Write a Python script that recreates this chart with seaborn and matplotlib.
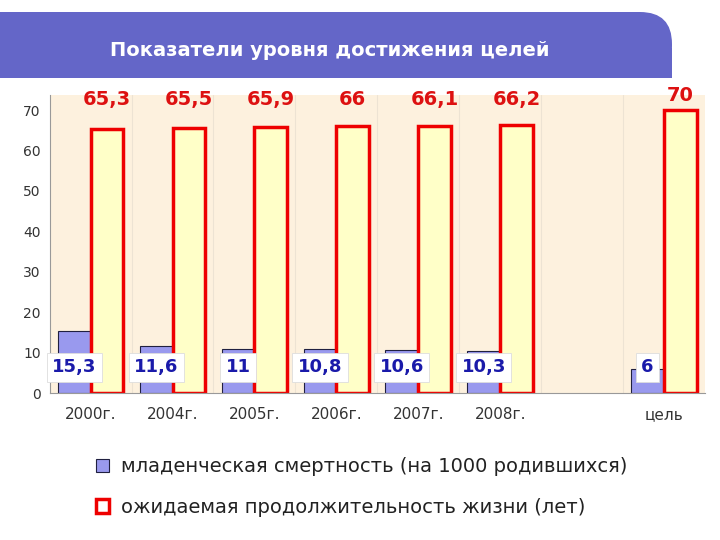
import matplotlib
matplotlib.use("Agg")
import matplotlib.pyplot as plt
import seaborn as sns
import pandas as pd
import numpy as np
from matplotlib.patches import FancyBboxPatch, Rectangle, Patch

categories = ["2000г.", "2004г.", "2005г.", "2006г.", "2007г.", "2008г.", " ", "цель"]
mortality = [15.3, 11.6, 11, 10.8, 10.6, 10.3, np.nan, 6]
life = [65.3, 65.5, 65.9, 66, 66.1, 66.2, np.nan, 70]
mort_labels = ["15,3", "11,6", "11", "10,8", "10,6", "10,3", "", "6"]
life_labels = ["65,3", "65,5", "65,9", "66", "66,1", "66,2", "", "70"]
s1 = "младенческая смертность (на 1000 родившихся)"
s2 = "ожидаемая продолжительность жизни (лет)"

df = pd.DataFrame({"cat": categories * 2, "val": mortality + life,
                   "series": [s1] * 8 + [s2] * 8})

sns.set_style("white")
plt.rcParams['font.family'] = ['DejaVu Sans']
fig = plt.figure(figsize=(7.2, 5.4), dpi=100)
ax = fig.add_axes([0.069, 0.272, 0.910, 0.552])
sns.barplot(data=df, x="cat", y="val", hue="series", order=categories,
            hue_order=[s1, s2], width=0.8, ax=ax, legend=False,
            palette=["#9999EE", "#FFFFC0"])
n = len(categories)
for p in ax.patches:
    cx = p.get_x() + p.get_width() / 2
    if cx - round(cx) < 0:
        p.set_facecolor("#9999EE"); p.set_edgecolor("#202040"); p.set_linewidth(0.8)
    else:
        p.set_facecolor("#FFFFC8"); p.set_edgecolor("#EE0000"); p.set_linewidth(2.5)
ax.set_facecolor("#FDF1DE")
ax.set_ylim(0, 73.7)
ax.set_xlim(-0.5, n - 0.5)
ax.set_yticks(range(0, 71, 10))
ax.set_xlabel(""); ax.set_ylabel("")
for sp in ["top", "right"]:
    ax.spines[sp].set_visible(False)
for sp in ["left", "bottom"]:
    ax.spines[sp].set_color("#999999")
ax.tick_params(axis="y", labelsize=10, length=3, colors="#333333")
ax.tick_params(axis="x", labelsize=11, length=0, pad=10, colors="#333333")
for x in np.arange(0.5, n - 0.5, 1):
    ax.axvline(x, color="#EDE3D3", lw=0.8, zorder=0)

for i in range(n):
    if mort_labels[i]:
        ax.text(i - 0.2, 6.4, mort_labels[i], ha="center", va="center", color="#1A1AAA",
                fontsize=13, fontweight="bold",
                bbox=dict(boxstyle="square,pad=0.3", fc="white", ec="#DDDDDD", lw=0.6))
    if life_labels[i]:
        y = 70.3 if i < n - 1 else 71.2
        ax.text(i + 0.2, y, life_labels[i], ha="center", va="bottom", color="#DD1111",
                fontsize=14, fontweight="bold")

# header banner: rounded top-right corner only
fig.patches.append(FancyBboxPatch((-40, 540 - 78), 40 + 672, 66,
                                  boxstyle="round,pad=0,rounding_size=32",
                                  transform=None, fc="#6466C8", ec="none"))
fig.patches.append(Rectangle((-5, 540 - 78), 640, 66, transform=None, fc="#6466C8", ec="none"))
fig.patches.append(Rectangle((-5, 540 - 78), 677, 30, transform=None, fc="#6466C8", ec="none"))
fig.text(330 / 720, 1 - 50 / 540, "Показатели уровня достижения целей", ha="center", va="center",
         color="white", fontsize=14, fontweight="bold")

handles = [Patch(fc="#9999EE", ec="#202040", lw=0.8), Patch(fc="white", ec="#EE0000", lw=2.5)]
fig.legend(handles, [s1, s2], loc="center left", bbox_to_anchor=(78 / 720, 1 - 487 / 540),
           frameon=False, fontsize=14, handlelength=0.7, handleheight=0.7,
           labelspacing=1.1, handletextpad=0.6, labelcolor="#222222")
fig.savefig("out.png", dpi=100)
